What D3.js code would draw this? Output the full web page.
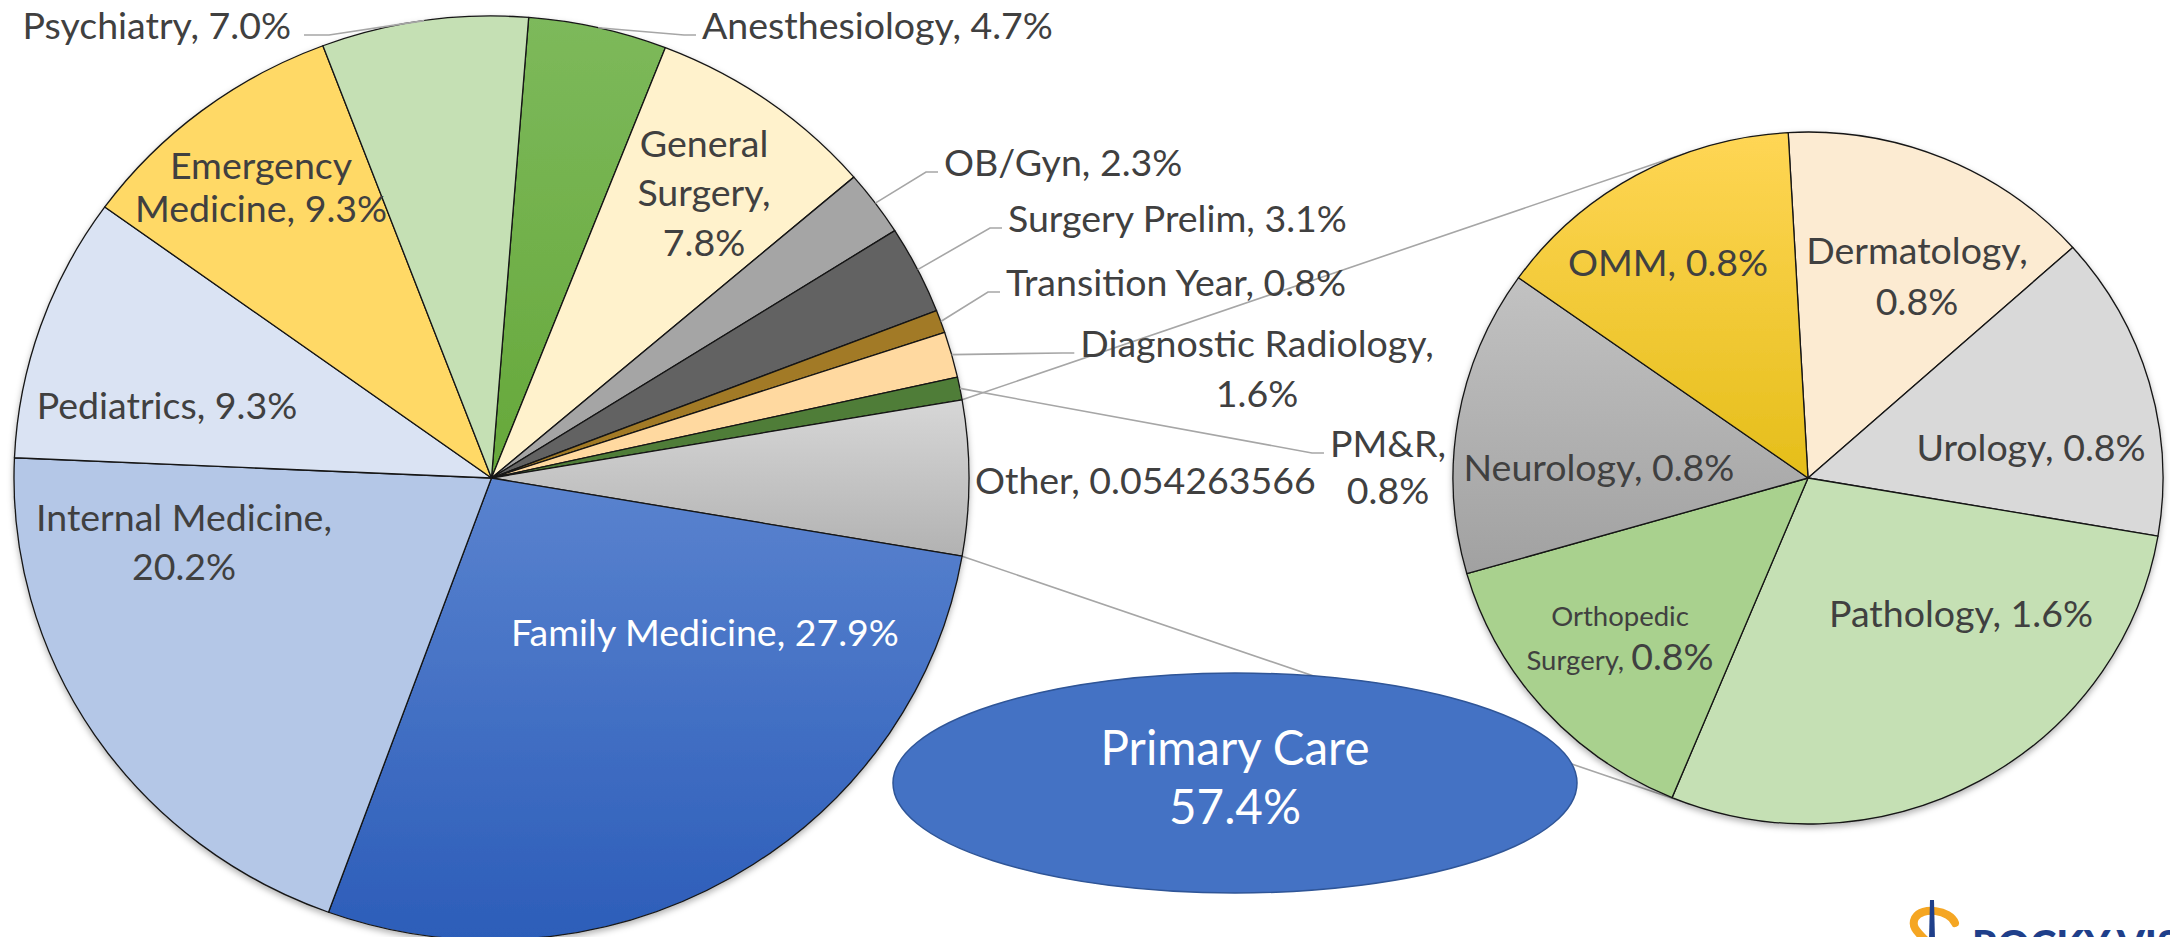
<!DOCTYPE html>
<html><head><meta charset="utf-8">
<script src="https://cdn.jsdelivr.net/npm/d3@7"></script>
<style>
html,body{margin:0;padding:0;background:#fff;overflow:hidden;}
svg{display:block;font-family:Lato,'Carlito',sans-serif;}
</style></head><body>
<svg id="chart" width="2170" height="937"></svg>
<script>
// ---------------- DATA ----------------
const mainCategories = ["Anesthesiology","General Surgery","OB/Gyn","Surgery Prelim","Transition Year",
  "Diagnostic Radiology","PM&R","Other","Family Medicine","Internal Medicine","Pediatrics",
  "Emergency Medicine","Psychiatry"];
const mainValues = [4.7, 7.8, 2.3, 3.1, 0.8, 1.6, 0.8, 5.4263566, 27.9, 20.2, 9.3, 9.3, 7.0];
const mainLabelLines = [["Anesthesiology, 4.7%"],["General","Surgery,","7.8%"],["OB/Gyn, 2.3%"],
  ["Surgery Prelim, 3.1%"],["Transition Year, 0.8%"],["Diagnostic Radiology,","1.6%"],["PM&R,","0.8%"],
  ["Other, 0.054263566"],["Family Medicine, 27.9%"],["Internal Medicine,","20.2%"],["Pediatrics, 9.3%"],
  ["Emergency","Medicine, 9.3%"],["Psychiatry, 7.0%"]];

const otherCategories = ["Dermatology","Urology","Pathology","Orthopedic Surgery","Neurology","OMM"];
const otherValues = [0.8, 0.8, 1.6, 0.8, 0.8, 0.8];
const otherLabelLines = [["Dermatology,","0.8%"],["Urology, 0.8%"],["Pathology, 1.6%"],
  ["Orthopedic","Surgery,|0.8%"],["Neurology, 0.8%"],["OMM, 0.8%"]];

const primaryCareName = "Primary Care";
const primaryCareValue = 57.4;
const logoText = "ROCKY VISTA";

// ---------------- STYLE / LAYOUT ----------------
const mainColors = ["#70AD47","#FFF2CC","#A5A5A5","#626262","#A27A26","#FFD9A0","#507D37","#C8C8C8",
  "#4472C4","#B4C7E7","#DAE3F3","#FFD966","#C5E0B4"];
const otherColors = ["#FCEBD2","#D9D9D9","#C5E0B4","#A9D18E","#B3B3B3","#FFCF30"];
const gradients = {
  "Family Medicine":["#5A83CF","#2C5DB9"],
  "Anesthesiology":["#7DB95B","#66A83A"],
  "Other":["#D7D7D7","#B2B2B2"],
  "OMM":["#FFD655","#E5BE1A"],
  "Neurology":["#C2C2C2","#A1A1A1"]
};
const L = {cx:491.5, cy:478, rx:477.5, ry:462};
const R = {cx:1808, cy:478, rx:355, ry:346};
const rightStartDeg = -3.2;
const FS = 37.5, FS_SMALL = 27.5, TEXT = "#404040";

// label layout: [x, y(center of first line), anchor, lineGap, leader?]
const mainLabelLayout = [
  [702, 25, "start", 0, true],
  [704, 143, "middle", 49.5, false],
  [944, 162, "start", 0, true],
  [1008, 218, "start", 0, true],
  [1006, 282, "start", 0, true],
  [1257, 343, "middle", 50, true],
  [1388, 443, "middle", 47, true],
  [975, 480, "start", 0, false],
  [705, 632, "middle", 0, false],
  [184, 517, "middle", 49, false],
  [167, 405, "middle", 0, false],
  [261, 165, "middle", 43, false],
  [291, 25, "end", 0, true]
];
const otherLabelLayout = [
  [1917, 250, 51], [2031, 447, 0], [1961, 613, 0], [1620, 616, 44], [1599, 467, 0], [1668, 262, 0]
];

// ---------------- DRAW ----------------
const svg = d3.select("#chart");
const defs = svg.append("defs");
const sh = defs.append("filter").attr("id","shadow").attr("x","-5%").attr("y","-5%").attr("width","110%").attr("height","112%");
sh.append("feDropShadow").attr("dx",0).attr("dy",3).attr("stdDeviation",3).attr("flood-color","#000").attr("flood-opacity",0.3);
Object.entries(gradients).forEach(([k,c],i)=>{
  const g = defs.append("linearGradient").attr("id","grad"+i).attr("x1",0).attr("y1",0).attr("x2",0).attr("y2",1);
  g.append("stop").attr("offset","0%").attr("stop-color",c[0]);
  g.append("stop").attr("offset","100%").attr("stop-color",c[1]);
});
const gradKeys = Object.keys(gradients);
const fillFor = (name, col) => gradKeys.includes(name) ? `url(#grad${gradKeys.indexOf(name)})` : col;

const edge = (P, a, k=1) => [P.cx + k*P.rx*Math.sin(a), P.cy - k*P.ry*Math.cos(a)];

// main pie: "Other" slice centred at 3 o'clock
const total = d3.sum(mainValues);
const oi = mainCategories.indexOf("Other");
const before = d3.sum(mainValues.slice(0, oi));
const s0 = Math.PI/2 - 2*Math.PI*(before + mainValues[oi]/2)/total;
const mainArcs = d3.pie().sort(null).value(d=>d).startAngle(s0).endAngle(s0 + 2*Math.PI)(mainValues);

const s1 = rightStartDeg*Math.PI/180;
const otherArcs = d3.pie().sort(null).value(d=>d).startAngle(s1).endAngle(s1 + 2*Math.PI)(otherValues);

// connector lines (tangent from Other slice edges to second pie)
const tangent = (p, sign) => {
  const u = [(p[0]-R.cx)/R.rx, (p[1]-R.cy)/R.ry];
  const d = Math.hypot(u[0],u[1]);
  const base = Math.atan2(u[1],u[0]);
  const t = base + sign*Math.acos(1/d);
  return [R.cx + R.rx*Math.cos(t), R.cy + R.ry*Math.sin(t)];
};
const oa = mainArcs[oi];
const pTop = edge(L, oa.startAngle), pBot = edge(L, oa.endAngle);
const connectors = [[pTop, tangent(pTop, 1)], [pBot, tangent(pBot, -1)]];
svg.append("g").selectAll("line").data(connectors).join("line")
  .attr("x1",d=>d[0][0]).attr("y1",d=>d[0][1]).attr("x2",d=>d[1][0]).attr("y2",d=>d[1][1])
  .attr("stroke","#A6A6A6").attr("stroke-width",1.6);

// left pie
const arcL = d3.arc().innerRadius(0).outerRadius(L.ry);
svg.append("g").attr("filter","url(#shadow)")
  .append("g").attr("transform",`translate(${L.cx},${L.cy}) scale(${L.rx/L.ry},1)`)
  .selectAll("path").data(mainArcs).join("path")
  .attr("d",arcL).attr("fill",(d,i)=>fillFor(mainCategories[i],mainColors[i]))
  .attr("stroke","#151515").attr("stroke-width",1.3).attr("vector-effect","non-scaling-stroke")
  .attr("stroke-linejoin","round");

// right pie
const arcR = d3.arc().innerRadius(0).outerRadius(R.ry);
svg.append("g").attr("filter","url(#shadow)")
  .append("g").attr("transform",`translate(${R.cx},${R.cy}) scale(${R.rx/R.ry},1)`)
  .selectAll("path").data(otherArcs).join("path")
  .attr("d",arcR).attr("fill",(d,i)=>fillFor(otherCategories[i],otherColors[i]))
  .attr("stroke","#151515").attr("stroke-width",1.3).attr("vector-effect","non-scaling-stroke")
  .attr("stroke-linejoin","round");

// main labels + leaders
const leaderG = svg.append("g");
const labG = svg.append("g");
mainLabelLines.forEach((lines,i)=>{
  const [x,y,anchor,gap,leader] = mainLabelLayout[i];
  const t = labG.append("text").attr("text-anchor",anchor).attr("font-size",FS)
    .attr("fill", mainCategories[i]==="Family Medicine" ? "#FFFFFF" : TEXT);
  const tsp = lines.map((ln,j)=> t.append("tspan").attr("x",x).attr("y",y + j*gap).attr("dy","0.36em").text(ln));
  if (leader) {
    const a = (mainArcs[i].startAngle + mainArcs[i].endAngle)/2;
    const e = edge(L, a);
    const bb = tsp[0].node().getBBox();
    const yl = y + 10;
    let pts;
    if (anchor === "end") pts = [[bb.x+bb.width+13, yl],[bb.x+bb.width+38, yl], e];
    else pts = [e, [bb.x-18, yl], [bb.x-6, yl]];
    leaderG.append("path").attr("d", d3.line()(pts)).attr("fill","none")
      .attr("stroke","#A6A6A6").attr("stroke-width",1.6);
  }
});

// right labels
otherLabelLines.forEach((lines,i)=>{
  const [x,y,gap] = otherLabelLayout[i];
  const t = labG.append("text").attr("text-anchor","middle").attr("fill",TEXT)
    .attr("font-size", otherCategories[i]==="Orthopedic Surgery" ? FS_SMALL : FS);
  lines.forEach((ln,j)=>{
    if (ln.includes("|")) {
      const [a,b] = ln.split("|");
      const ts = t.append("tspan").attr("x",x).attr("y",y+j*gap).attr("dy","0.36em");
      ts.append("tspan").text(a + " ");
      ts.append("tspan").attr("font-size",FS).text(b);
    } else {
      t.append("tspan").attr("x",x).attr("y",y+j*gap).attr("dy","0.36em").text(ln);
    }
  });
});

// Primary Care ellipse
const pc = svg.append("g");
pc.append("ellipse").attr("cx",1235).attr("cy",783).attr("rx",342).attr("ry",110)
  .attr("fill","#4472C4").attr("stroke","#2F5597").attr("stroke-width",1.5);
const pct = pc.append("text").attr("text-anchor","middle").attr("fill","#FFFFFF").attr("font-size",47.5);
pct.append("tspan").attr("x",1235).attr("y",748).attr("dy","0.36em").text(primaryCareName);
pct.append("tspan").attr("x",1235).attr("y",807).attr("dy","0.36em").text(primaryCareValue.toFixed(1)+"%");

// logo fragment (cut off by the bottom edge, as in the original)
const lg = svg.append("g");
lg.append("path").attr("d","M1955,923 C1950,910 1922,906 1915,918 C1910,928 1920,934 1930,945")
  .attr("fill","none").attr("stroke","#F5A623").attr("stroke-width",8).attr("stroke-linecap","round");
lg.append("path").attr("d","M1930,900 L1934,900 L1935,940 L1929,940 Z").attr("fill","#1F3F8A");
lg.append("text").attr("x",1972).attr("y",959).attr("font-size",40).attr("font-weight",900)
  .attr("fill","#1F3F8A").text(logoText);
</script>
</body></html>
